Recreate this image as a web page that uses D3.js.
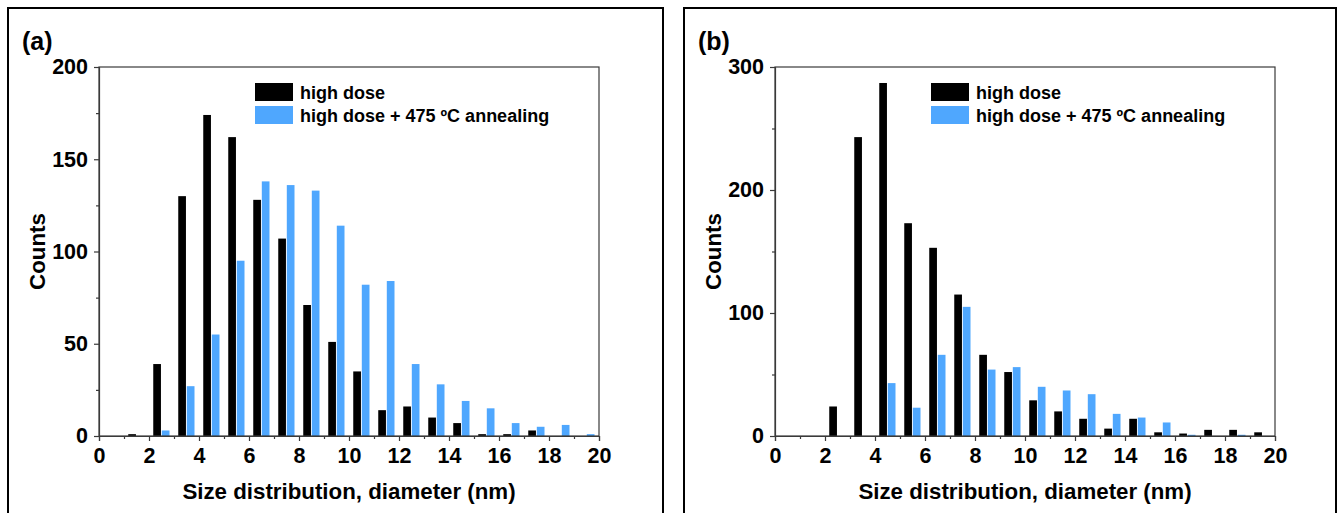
<!DOCTYPE html>
<html>
<head>
<meta charset="utf-8">
<script src="https://cdn.jsdelivr.net/npm/d3@7"></script>
<style>
  html, body { margin: 0; padding: 0; background: #fff; }
  svg { display: block; font-family: "Liberation Sans", Arial, Helvetica, sans-serif; font-weight: bold; }
</style>
</head>
<body>
<svg id="chart" width="1340" height="513"></svg>
<script>
// Bin start (nm); each bin spans [start, start + 1)
const bins = [0, 1, 2, 3, 4, 5, 6, 7, 8, 9, 10, 11, 12, 13, 14, 15, 16, 17, 18, 19];

// Panel (a) counts
const countsA_highDose  = [0, 1, 39, 130, 174, 162, 128, 107, 71, 51, 35, 14, 16, 10, 7, 1, 1, 3, 0, 0];
const countsA_annealed  = [0, 0, 3, 27, 55, 95, 138, 136, 133, 114, 82, 84, 39, 28, 19, 15, 7, 5, 6, 1];

// Panel (b) counts
const countsB_highDose  = [0, 0, 24, 243, 287, 173, 153, 115, 66, 52, 29, 20, 14, 6, 14, 3, 2, 5, 5, 3];
const countsB_annealed  = [0, 0, 0, 0, 43, 23, 66, 105, 54, 56, 40, 37, 34, 18, 15, 11, 1, 0, 1, 0];

const seriesNames = ["high dose", "high dose + 475 \u00BAC annealing"];
const seriesColors = ["#000000", "#4fa7fe"];

const xTicks = [0, 2, 4, 6, 8, 10, 12, 14, 16, 18, 20];
const yTicksA = [0, 50, 100, 150, 200];
const yTicksB = [0, 100, 200, 300];

const xTitle = "Size distribution, diameter (nm)";
const yTitle = "Counts";

const svg = d3.select("#chart");

function drawPanel(cfg) {
  const g = svg.append("g");

  // outer frame (open at the bottom edge of the page)
  g.append("path")
    .attr("d", `M${cfg.frame[0]},520 V${cfg.frame[1]} H${cfg.frame[2]} V520`)
    .attr("fill", "none").attr("stroke", "#000").attr("stroke-width", 2);

  const x = d3.scaleLinear().domain([0, 20]).range([cfg.left, cfg.left + 500]);
  const y = d3.scaleLinear().domain([0, cfg.yMax]).range([436, 67]);

  // position of each series inside a 1 nm bin
  const inner = d3.scaleBand().domain([0, 1]).range([0.17, 0.82]).paddingInner(0.1);

  const series = [cfg.high, cfg.anneal];
  series.forEach((vals, si) => {
    g.append("g").selectAll("rect")
      .data(bins.map((b, i) => ({ b, v: vals[i] })).filter(d => d.v > 0))
      .join("rect")
      .attr("x", d => x(d.b + inner(si)))
      .attr("width", d => x(d.b + inner(si) + inner.bandwidth()) - x(d.b + inner(si)))
      .attr("y", d => y(d.v))
      .attr("height", d => y(0) - y(d.v))
      .attr("fill", seriesColors[si]);
  });

  // plot box
  g.append("rect")
    .attr("x", x(0)).attr("y", y(cfg.yMax))
    .attr("width", x(20) - x(0)).attr("height", y(0) - y(cfg.yMax))
    .attr("fill", "none").attr("stroke", "#3a3a3a").attr("stroke-width", 1.2);

  // x axis: major ticks with labels, minor ticks between
  const xAxis = d3.axisBottom(x).tickValues(xTicks).tickSize(5).tickPadding(7).tickFormat(d3.format("d"));
  const gx = g.append("g").attr("transform", `translate(0,${y(0)})`).call(xAxis);
  const xMinor = d3.axisBottom(x).tickValues(d3.range(1, 20, 2)).tickSize(3).tickFormat("");
  g.append("g").attr("transform", `translate(0,${y(0)})`).call(xMinor).select(".domain").remove();

  // y axis
  const yAxis = d3.axisLeft(y).tickValues(cfg.yTicks).tickSize(5).tickPadding(6).tickFormat(d3.format("d"));
  const gy = g.append("g").attr("transform", `translate(${x(0)},0)`).call(yAxis);
  const step = cfg.yTicks[1] - cfg.yTicks[0];
  const yMinor = d3.axisLeft(y).tickValues(d3.range(step / 2, cfg.yMax, step)).tickSize(3).tickFormat("");
  g.append("g").attr("transform", `translate(${x(0)},0)`).call(yMinor).select(".domain").remove();

  svg.selectAll(".domain").attr("stroke", "#3a3a3a").attr("stroke-width", 1.2);
  g.selectAll(".tick line").attr("stroke", "#3a3a3a").attr("stroke-width", 1.2);
  g.selectAll(".tick text")
    .attr("font-size", 21.5).attr("font-weight", "bold").attr("fill", "#000")
    .attr("font-family", "'Liberation Sans', Arial, sans-serif");
  gx.selectAll(".tick text").attr("dy", "0.71em");

  // titles
  g.append("text")
    .attr("x", (x(0) + x(20)) / 2).attr("y", 499)
    .attr("text-anchor", "middle").attr("font-size", 22.3)
    .text(xTitle);
  g.append("text")
    .attr("transform", `translate(${cfg.left - 54},${(y(0) + y(cfg.yMax)) / 2}) rotate(-90)`)
    .attr("text-anchor", "middle").attr("font-size", 22.3)
    .text(yTitle);

  // panel letter
  g.append("text")
    .attr("x", cfg.frame[0] + 14).attr("y", 50)
    .attr("font-size", 25)
    .text(cfg.letter);

  // legend
  const lg = g.append("g").attr("transform", `translate(${x(0) + 156},83)`);
  seriesNames.forEach((name, i) => {
    lg.append("rect").attr("x", 0).attr("y", i * 23).attr("width", 38).attr("height", 18)
      .attr("fill", seriesColors[i]);
    lg.append("text").attr("x", 45).attr("y", i * 23 + 16)
      .attr("font-size", 18).text(name);
  });
}

drawPanel({
  frame: [8, 8, 663], left: 99, yMax: 200, yTicks: yTicksA,
  high: countsA_highDose, anneal: countsA_annealed, letter: "(a)"
});
drawPanel({
  frame: [684, 8, 1336], left: 775, yMax: 300, yTicks: yTicksB,
  high: countsB_highDose, anneal: countsB_annealed, letter: "(b)"
});
</script>
</body>
</html>
